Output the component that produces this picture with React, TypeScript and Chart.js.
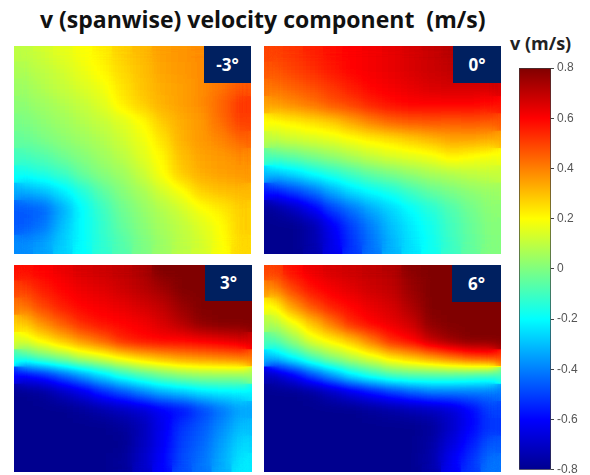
import React, { useEffect, useRef } from "react";
import { Chart, registerables } from "chart.js";

Chart.register(...registerables);

const TITLE = "v (spanwise) velocity component  (m/s)";
const COLORBAR_LABEL = "v (m/s)";
const V_MIN = -0.8;
const V_MAX = 0.8;
const COLORBAR_TICK_STEP = 0.2;

const vMinus3 = [
  [0.10, 0.13, 0.16, 0.19, 0.22, 0.27, 0.31, 0.35, 0.37, 0.38, 0.40, 0.42],
  [0.07, 0.10, 0.13, 0.17, 0.21, 0.26, 0.30, 0.34, 0.36, 0.38, 0.40, 0.43],
  [0.05, 0.08, 0.11, 0.14, 0.18, 0.24, 0.29, 0.33, 0.35, 0.38, 0.42, 0.47],
  [0.02, 0.05, 0.08, 0.11, 0.15, 0.22, 0.27, 0.32, 0.35, 0.38, 0.44, 0.52],
  [-0.01, 0.02, 0.05, 0.08, 0.11, 0.15, 0.20, 0.28, 0.33, 0.36, 0.43, 0.50],
  [-0.04, -0.01, 0.02, 0.05, 0.08, 0.12, 0.17, 0.24, 0.32, 0.36, 0.39, 0.44],
  [-0.10, -0.07, -0.03, 0.01, 0.05, 0.09, 0.15, 0.21, 0.30, 0.34, 0.36, 0.38],
  [-0.18, -0.15, -0.11, -0.04, 0.01, 0.05, 0.11, 0.19, 0.28, 0.33, 0.35, 0.36],
  [-0.33, -0.30, -0.23, -0.15, -0.06, 0.01, 0.06, 0.13, 0.19, 0.27, 0.30, 0.31],
  [-0.46, -0.44, -0.33, -0.20, -0.11, -0.03, 0.03, 0.08, 0.13, 0.19, 0.23, 0.27],
  [-0.46, -0.42, -0.30, -0.20, -0.12, -0.05, 0.01, 0.06, 0.10, 0.15, 0.20, 0.27],
  [-0.38, -0.35, -0.27, -0.20, -0.13, -0.07, -0.01, 0.04, 0.09, 0.13, 0.19, 0.26],
];

const vZero = [
  [0.50, 0.52, 0.55, 0.58, 0.60, 0.62, 0.64, 0.66, 0.69, 0.71, 0.72, 0.72],
  [0.47, 0.50, 0.53, 0.57, 0.60, 0.62, 0.64, 0.66, 0.68, 0.70, 0.70, 0.70],
  [0.42, 0.45, 0.48, 0.52, 0.56, 0.60, 0.62, 0.64, 0.66, 0.67, 0.67, 0.67],
  [0.35, 0.38, 0.42, 0.47, 0.50, 0.55, 0.58, 0.60, 0.60, 0.60, 0.60, 0.58],
  [0.20, 0.22, 0.25, 0.28, 0.34, 0.40, 0.44, 0.46, 0.47, 0.46, 0.47, 0.46],
  [0.10, 0.12, 0.14, 0.16, 0.19, 0.22, 0.25, 0.28, 0.31, 0.34, 0.34, 0.33],
  [-0.08, -0.05, -0.01, 0.03, 0.07, 0.11, 0.14, 0.16, 0.18, 0.22, 0.20, 0.18],
  [-0.30, -0.26, -0.20, -0.15, -0.10, -0.05, -0.01, 0.03, 0.06, 0.08, 0.10, 0.11],
  [-0.56, -0.50, -0.43, -0.33, -0.25, -0.20, -0.16, -0.10, -0.05, -0.01, 0.02, 0.04],
  [-0.78, -0.72, -0.62, -0.50, -0.42, -0.33, -0.26, -0.20, -0.14, -0.08, -0.02, 0.02],
  [-0.80, -0.80, -0.75, -0.62, -0.50, -0.40, -0.30, -0.23, -0.17, -0.10, -0.04, 0.01],
  [-0.80, -0.80, -0.75, -0.64, -0.52, -0.42, -0.32, -0.24, -0.18, -0.11, -0.05, 0.00],
];

const vPlus3 = [
  [0.58, 0.60, 0.63, 0.66, 0.68, 0.70, 0.73, 0.80, 0.80, 0.80, 0.80, 0.80],
  [0.50, 0.56, 0.60, 0.63, 0.65, 0.68, 0.71, 0.75, 0.80, 0.80, 0.80, 0.80],
  [0.42, 0.50, 0.56, 0.60, 0.62, 0.64, 0.67, 0.70, 0.76, 0.80, 0.80, 0.80],
  [0.28, 0.38, 0.46, 0.54, 0.58, 0.60, 0.62, 0.66, 0.72, 0.78, 0.80, 0.80],
  [0.15, 0.22, 0.30, 0.38, 0.45, 0.54, 0.58, 0.60, 0.60, 0.62, 0.64, 0.66],
  [-0.12, -0.05, 0.02, 0.10, 0.15, 0.22, 0.28, 0.32, 0.36, 0.38, 0.40, 0.42],
  [-0.60, -0.55, -0.45, -0.35, -0.25, -0.15, -0.08, -0.02, 0.02, 0.04, 0.04, 0.04],
  [-0.80, -0.78, -0.72, -0.65, -0.55, -0.48, -0.40, -0.33, -0.29, -0.25, -0.23, -0.22],
  [-0.80, -0.80, -0.80, -0.78, -0.75, -0.72, -0.68, -0.62, -0.58, -0.50, -0.42, -0.34],
  [-0.80, -0.80, -0.80, -0.80, -0.80, -0.78, -0.73, -0.63, -0.52, -0.46, -0.38, -0.30],
  [-0.80, -0.80, -0.80, -0.80, -0.80, -0.80, -0.72, -0.62, -0.50, -0.44, -0.35, -0.26],
  [-0.80, -0.80, -0.80, -0.80, -0.80, -0.78, -0.70, -0.60, -0.48, -0.42, -0.33, -0.23],
];

const vPlus6 = [
  [0.50, 0.58, 0.63, 0.66, 0.68, 0.70, 0.72, 0.78, 0.80, 0.80, 0.80, 0.80],
  [0.38, 0.50, 0.58, 0.62, 0.65, 0.68, 0.70, 0.76, 0.80, 0.80, 0.80, 0.80],
  [0.20, 0.36, 0.48, 0.56, 0.60, 0.64, 0.67, 0.73, 0.80, 0.80, 0.80, 0.80],
  [0.08, 0.18, 0.30, 0.42, 0.54, 0.60, 0.64, 0.68, 0.78, 0.80, 0.80, 0.80],
  [-0.08, 0.03, 0.16, 0.22, 0.30, 0.42, 0.54, 0.60, 0.70, 0.76, 0.80, 0.80],
  [-0.30, -0.20, -0.08, 0.02, 0.10, 0.16, 0.24, 0.30, 0.36, 0.42, 0.48, 0.50],
  [-0.72, -0.62, -0.48, -0.35, -0.22, -0.14, -0.08, -0.06, -0.06, -0.06, -0.08, -0.10],
  [-0.80, -0.80, -0.78, -0.72, -0.65, -0.58, -0.52, -0.46, -0.42, -0.42, -0.42, -0.42],
  [-0.80, -0.80, -0.80, -0.80, -0.80, -0.78, -0.76, -0.74, -0.72, -0.68, -0.60, -0.50],
  [-0.80, -0.80, -0.80, -0.80, -0.80, -0.80, -0.80, -0.80, -0.78, -0.70, -0.60, -0.52],
  [-0.80, -0.80, -0.80, -0.80, -0.80, -0.80, -0.80, -0.80, -0.76, -0.66, -0.56, -0.46],
  [-0.80, -0.80, -0.80, -0.80, -0.80, -0.80, -0.80, -0.80, -0.75, -0.62, -0.52, -0.42],
];

const panels = [
  { label: "-3°", grid: vMinus3, left: 14, top: 46, width: 237, height: 208, boxW: 47, boxH: 37 },
  { label: "0°", grid: vZero, left: 264, top: 46, width: 237, height: 208, boxW: 48, boxH: 37 },
  { label: "3°", grid: vPlus3, left: 14, top: 265, width: 238, height: 207, boxW: 47, boxH: 36 },
  { label: "6°", grid: vPlus6, left: 264, top: 265, width: 237, height: 207, boxW: 49, boxH: 37 },
];

const jetStops: [number, number, number, number][] = [
  [0, 0, 0, 143],
  [0.125, 0, 0, 255],
  [0.375, 0, 255, 255],
  [0.625, 255, 255, 0],
  [0.875, 255, 0, 0],
  [1, 128, 0, 0],
];

function jet(t: number): [number, number, number] {
  for (let i = 1; i < jetStops.length; i++) {
    const a = jetStops[i - 1];
    const b = jetStops[i];
    if (t <= b[0]) {
      const f = (t - a[0]) / (b[0] - a[0]);
      return [a[1] + (b[1] - a[1]) * f, a[2] + (b[2] - a[2]) * f, a[3] + (b[3] - a[3]) * f];
    }
  }
  return [128, 0, 0];
}

// Cells are painted as levels of grey (the value), blurred, then coloured,
// so that the smoothing passes through the rainbow as a real contour fill does.
const smoothJetPlugin = {
  id: "smoothJet",
  afterDatasetsDraw(chart: any) {
    const { ctx, canvas } = chart;
    ctx.save();
    ctx.filter = "blur(7px)";
    ctx.drawImage(canvas, 0, 0);
    ctx.restore();
    const img = ctx.getImageData(0, 0, canvas.width, canvas.height);
    const d = img.data;
    for (let i = 0; i < d.length; i += 4) {
      const [r, g, b] = jet(d[i] / 255);
      d[i] = r;
      d[i + 1] = g;
      d[i + 2] = b;
      d[i + 3] = 255;
    }
    ctx.putImageData(img, 0, 0);
  },
};

function Panel({ p }: { p: (typeof panels)[number] }) {
  const ref = useRef<HTMLCanvasElement>(null);
  useEffect(() => {
    const rows = p.grid.length;
    const cols = p.grid[0].length;
    const points: { x: number; y: number; v: number }[] = [];
    p.grid.forEach((row, r) =>
      row.forEach((v, c) => points.push({ x: c + 0.5, y: rows - r - 0.5, v }))
    );
    const grey = (v: number) => {
      const g = Math.round(((v - V_MIN) / (V_MAX - V_MIN)) * 255);
      return `rgb(${g},${g},${g})`;
    };
    const chart = new Chart(ref.current as HTMLCanvasElement, {
      type: "scatter",
      data: {
        datasets: [
          {
            data: points,
            pointStyle: "rect",
            pointRadius: 15,
            pointBorderWidth: 0,
            pointBackgroundColor: (c: any) => grey(c.raw ? c.raw.v : 0),
          },
        ],
      },
      options: {
        animation: false,
        responsive: false,
        layout: { padding: 0, autoPadding: false },
        plugins: { legend: { display: false }, tooltip: { enabled: false } },
        scales: {
          x: { type: "linear", display: false, min: 0, max: cols },
          y: { type: "linear", display: false, min: 0, max: rows },
        },
      },
      plugins: [smoothJetPlugin],
    } as any);
    return () => chart.destroy();
  }, [p]);
  return (
    <>
      <canvas
        ref={ref}
        width={p.width}
        height={p.height}
        style={{ position: "absolute", left: p.left, top: p.top, width: p.width, height: p.height }}
      />
      <div
        style={{
          position: "absolute",
          left: p.left + p.width - p.boxW,
          top: p.top,
          width: p.boxW,
          height: p.boxH,
          background: "#002060",
          color: "#fff",
          fontFamily: "'Open Sans', sans-serif",
          fontWeight: 700,
          fontSize: 17,
          lineHeight: `${p.boxH}px`,
          textAlign: "center",
        }}
      >
        {p.label}
      </div>
    </>
  );
}

function Colorbar() {
  const ref = useRef<HTMLCanvasElement>(null);
  useEffect(() => {
    const chart = new Chart(ref.current as HTMLCanvasElement, {
      type: "bar",
      data: {
        labels: ["v"],
        datasets: [
          {
            data: [[V_MIN, V_MAX]],
            barPercentage: 1,
            categoryPercentage: 1,
            borderWidth: 1,
            borderColor: "#3a3a3a",
            borderSkipped: false,
            backgroundColor: (c: any) => {
              const area = c.chart.chartArea;
              if (!area) return "#000";
              const g = c.chart.ctx.createLinearGradient(0, area.bottom, 0, area.top);
              jetStops.forEach((s) => g.addColorStop(s[0], `rgb(${s[1]},${s[2]},${s[3]})`));
              return g;
            },
          },
        ],
      },
      options: {
        animation: false,
        responsive: false,
        layout: { padding: { left: 9, right: 0, top: 13, bottom: 7 }, autoPadding: false },
        plugins: { legend: { display: false }, tooltip: { enabled: false } },
        scales: {
          x: { display: false },
          y: {
            position: "right",
            min: V_MIN,
            max: V_MAX,
            afterFit: (s: any) => {
              s.width = 39;
            },
            border: { display: false },
            grid: { drawOnChartArea: false, tickLength: 3, tickColor: "#444" },
            ticks: {
              stepSize: COLORBAR_TICK_STEP,
              padding: 3,
              color: "#555",
              font: { family: "'Liberation Sans', Arial, sans-serif", size: 12 },
              callback: (v: any) => {
                const n = Math.round(Number(v) * 10) / 10;
                return n === 0 ? "0" : n.toFixed(1);
              },
            },
          },
        },
      },
    } as any);
    return () => chart.destroy();
  }, []);
  return (
    <canvas
      ref={ref}
      width={80}
      height={425}
      style={{ position: "absolute", left: 510, top: 55, width: 80, height: 425 }}
    />
  );
}

export default function App() {
  useEffect(() => {
    document.body.style.margin = "0";
  }, []);
  return (
    <div
      style={{
        position: "relative",
        width: 590,
        height: 475,
        overflow: "hidden",
        background: "#fff",
        fontFamily: "'Open Sans', sans-serif",
      }}
    >
      <div
        style={{
          position: "absolute",
          left: 40,
          top: 4,
          whiteSpace: "pre",
          fontWeight: 700,
          fontSize: 23,
          lineHeight: "30px",
          color: "#111",
        }}
      >
        {TITLE}
      </div>
      <div
        style={{
          position: "absolute",
          left: 510,
          top: 32,
          whiteSpace: "pre",
          fontWeight: 700,
          fontSize: 18,
          lineHeight: "22px",
          color: "#222",
        }}
      >
        {COLORBAR_LABEL}
      </div>
      {panels.map((p) => (
        <Panel key={p.label} p={p} />
      ))}
      <Colorbar />
    </div>
  );
}
